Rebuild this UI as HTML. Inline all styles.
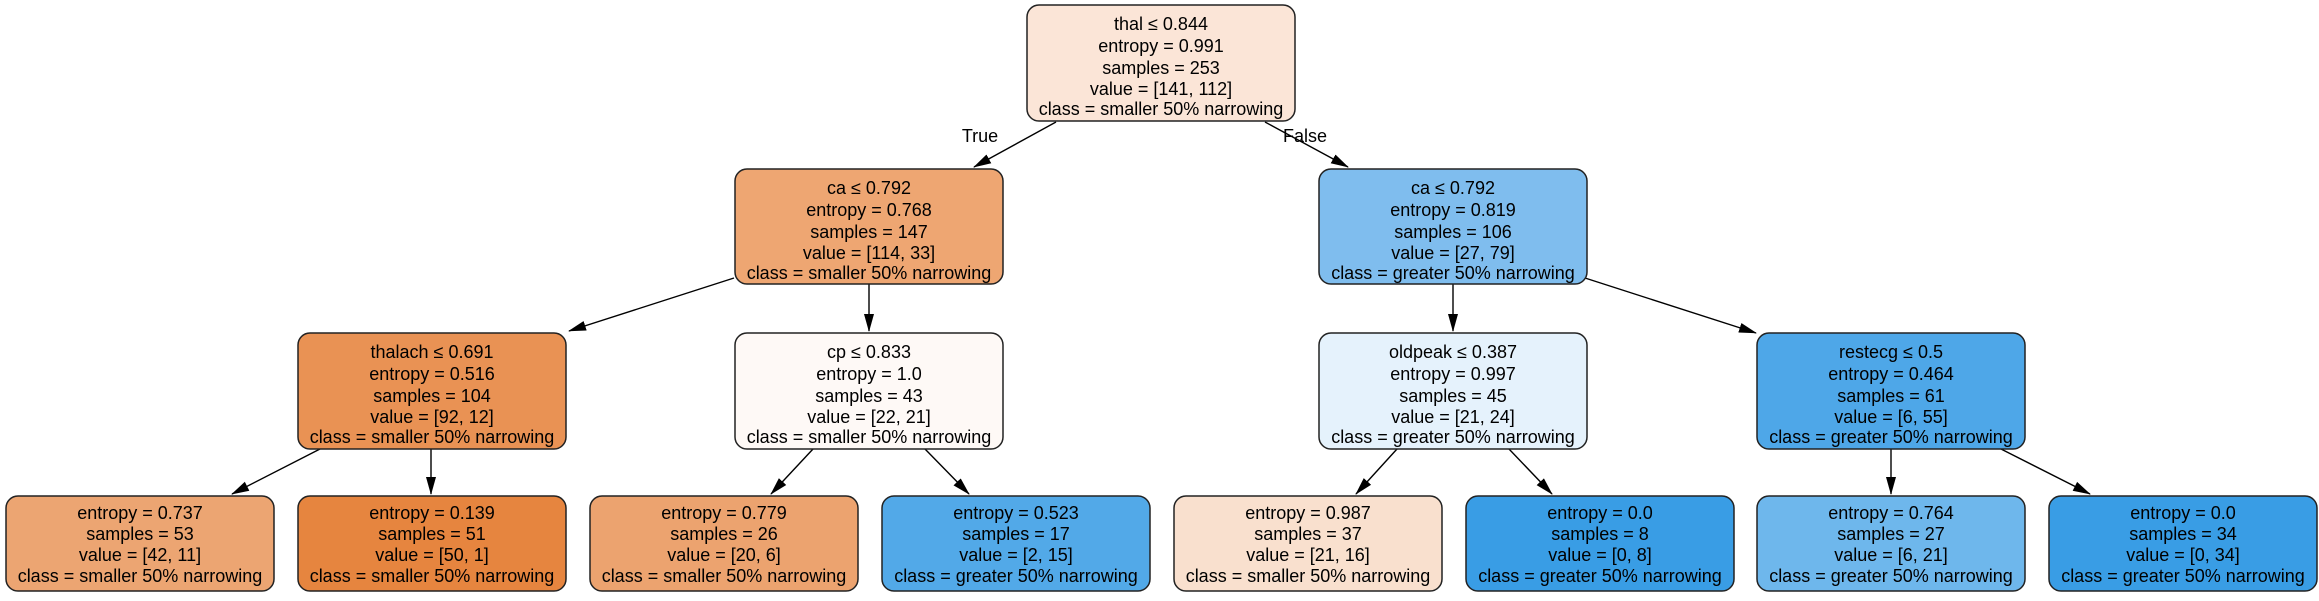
<!DOCTYPE html>
<html><head><meta charset="utf-8"><style>
html,body{margin:0;padding:0;background:#fff;}
svg text{font-family:"Liberation Sans",Arial,sans-serif;font-size:18px;fill:#000;text-anchor:middle;}
.n{stroke:#222;stroke-width:1.5;}
.e{stroke:#000;stroke-width:1.4;fill:none;}
</style></head><body>
<svg width="2319" height="596" viewBox="0 0 2319 596" xmlns="http://www.w3.org/2000/svg">
<defs>
<marker id="b" markerWidth="18" markerHeight="14" refX="17" refY="7" orient="auto" markerUnits="userSpaceOnUse" viewBox="0 0 18 14"><path d="M0,2 L18,7 L0,12 z" fill="#000"/></marker></defs>

<!-- edges -->
<line class="e" x1="1056" y1="122" x2="974" y2="167" marker-end="url(#b)"/>
<line class="e" x1="1265" y1="122" x2="1348" y2="167" marker-end="url(#b)"/>
<text x="980" y="142">True</text>
<text x="1305" y="142">False</text>
<line class="e" x1="734" y1="278" x2="569" y2="331" marker-end="url(#b)"/>
<line class="e" x1="869" y1="284" x2="869" y2="331" marker-end="url(#b)"/>
<line class="e" x1="1453" y1="284" x2="1453" y2="331" marker-end="url(#b)"/>
<line class="e" x1="1585" y1="278" x2="1756" y2="333" marker-end="url(#b)"/>
<line class="e" x1="320" y1="449" x2="232" y2="494" marker-end="url(#b)"/>
<line class="e" x1="431" y1="449" x2="431" y2="494" marker-end="url(#b)"/>
<line class="e" x1="813" y1="449" x2="771" y2="494" marker-end="url(#b)"/>
<line class="e" x1="925" y1="449" x2="969" y2="494" marker-end="url(#b)"/>
<line class="e" x1="1397" y1="449" x2="1356" y2="494" marker-end="url(#b)"/>
<line class="e" x1="1509" y1="449" x2="1552" y2="494" marker-end="url(#b)"/>
<line class="e" x1="1891" y1="449" x2="1891" y2="494" marker-end="url(#b)"/>
<line class="e" x1="2001" y1="449" x2="2090" y2="494" marker-end="url(#b)"/>

<!-- root -->
<rect class="n" x="1027" y="5" width="268" height="116" rx="12" fill="#fbe5d7"/>
<text x="1161" y="30">thal ≤ 0.844</text><text x="1161" y="52">entropy = 0.991</text><text x="1161" y="74">samples = 253</text><text x="1161" y="95">value = [141, 112]</text><text x="1161" y="115">class = smaller 50% narrowing</text>

<!-- L2 -->
<rect class="n" x="735" y="169" width="268" height="115" rx="12" fill="#eea672"/>
<text x="869" y="194">ca ≤ 0.792</text><text x="869" y="216">entropy = 0.768</text><text x="869" y="238">samples = 147</text><text x="869" y="259">value = [114, 33]</text><text x="869" y="279">class = smaller 50% narrowing</text>
<rect class="n" x="1319" y="169" width="268" height="115" rx="12" fill="#7fbdee"/>
<text x="1453" y="194">ca ≤ 0.792</text><text x="1453" y="216">entropy = 0.819</text><text x="1453" y="238">samples = 106</text><text x="1453" y="259">value = [27, 79]</text><text x="1453" y="279">class = greater 50% narrowing</text>

<!-- L3 -->
<rect class="n" x="298" y="333" width="268" height="116" rx="12" fill="#e99254"/>
<text x="432" y="358">thalach ≤ 0.691</text><text x="432" y="380">entropy = 0.516</text><text x="432" y="402">samples = 104</text><text x="432" y="423">value = [92, 12]</text><text x="432" y="443">class = smaller 50% narrowing</text>
<rect class="n" x="735" y="333" width="268" height="116" rx="12" fill="#fef9f6"/>
<text x="869" y="358">cp ≤ 0.833</text><text x="869" y="380">entropy = 1.0</text><text x="869" y="402">samples = 43</text><text x="869" y="423">value = [22, 21]</text><text x="869" y="443">class = smaller 50% narrowing</text>
<rect class="n" x="1319" y="333" width="268" height="116" rx="12" fill="#e5f2fc"/>
<text x="1453" y="358">oldpeak ≤ 0.387</text><text x="1453" y="380">entropy = 0.997</text><text x="1453" y="402">samples = 45</text><text x="1453" y="423">value = [21, 24]</text><text x="1453" y="443">class = greater 50% narrowing</text>
<rect class="n" x="1757" y="333" width="268" height="116" rx="12" fill="#4ea7e8"/>
<text x="1891" y="358">restecg ≤ 0.5</text><text x="1891" y="380">entropy = 0.464</text><text x="1891" y="402">samples = 61</text><text x="1891" y="423">value = [6, 55]</text><text x="1891" y="443">class = greater 50% narrowing</text>

<!-- L4 -->
<rect class="n" x="6" y="496" width="268" height="95" rx="12" fill="#eca572"/>
<text x="140" y="519">entropy = 0.737</text><text x="140" y="540">samples = 53</text><text x="140" y="561">value = [42, 11]</text><text x="140" y="582">class = smaller 50% narrowing</text>
<rect class="n" x="298" y="496" width="268" height="95" rx="12" fill="#e6853f"/>
<text x="432" y="519">entropy = 0.139</text><text x="432" y="540">samples = 51</text><text x="432" y="561">value = [50, 1]</text><text x="432" y="582">class = smaller 50% narrowing</text>
<rect class="n" x="590" y="496" width="268" height="95" rx="12" fill="#eca36f"/>
<text x="724" y="519">entropy = 0.779</text><text x="724" y="540">samples = 26</text><text x="724" y="561">value = [20, 6]</text><text x="724" y="582">class = smaller 50% narrowing</text>
<rect class="n" x="882" y="496" width="268" height="95" rx="12" fill="#52a9e8"/>
<text x="1016" y="519">entropy = 0.523</text><text x="1016" y="540">samples = 17</text><text x="1016" y="561">value = [2, 15]</text><text x="1016" y="582">class = greater 50% narrowing</text>
<rect class="n" x="1174" y="496" width="268" height="95" rx="12" fill="#f9e0ce"/>
<text x="1308" y="519">entropy = 0.987</text><text x="1308" y="540">samples = 37</text><text x="1308" y="561">value = [21, 16]</text><text x="1308" y="582">class = smaller 50% narrowing</text>
<rect class="n" x="1466" y="496" width="268" height="95" rx="12" fill="#399de5"/>
<text x="1600" y="519">entropy = 0.0</text><text x="1600" y="540">samples = 8</text><text x="1600" y="561">value = [0, 8]</text><text x="1600" y="582">class = greater 50% narrowing</text>
<rect class="n" x="1757" y="496" width="268" height="95" rx="12" fill="#6eb7ec"/>
<text x="1891" y="519">entropy = 0.764</text><text x="1891" y="540">samples = 27</text><text x="1891" y="561">value = [6, 21]</text><text x="1891" y="582">class = greater 50% narrowing</text>
<rect class="n" x="2049" y="496" width="268" height="95" rx="12" fill="#399de5"/>
<text x="2183" y="519">entropy = 0.0</text><text x="2183" y="540">samples = 34</text><text x="2183" y="561">value = [0, 34]</text><text x="2183" y="582">class = greater 50% narrowing</text>
</svg>
</body></html>
